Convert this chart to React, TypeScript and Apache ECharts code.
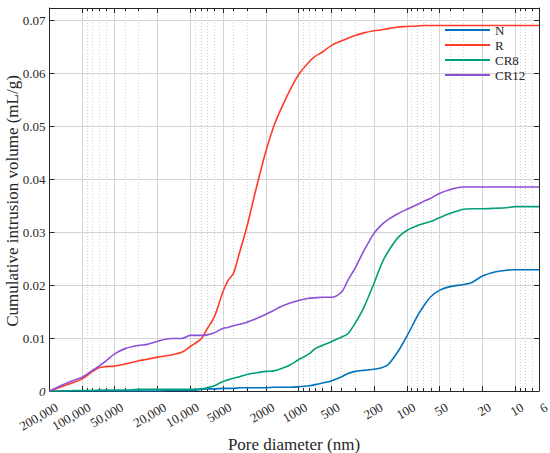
import React, { useEffect, useRef } from "react";
import * as echarts from "echarts";

const diameters = [200000, 150000, 120000, 100000, 80000, 70000, 60000, 50000, 40000, 30000, 25000, 20000, 15000, 12000, 10000, 8000, 7000, 6000, 5000, 4500, 4000, 3500, 3000, 2500, 2000, 1700, 1500, 1200, 1000, 800, 700, 600, 500, 400, 350, 300, 250, 200, 170, 150, 120, 100, 80, 70, 60, 50, 40, 30, 25, 20, 15, 12, 10, 8, 6];

const seriesN = [0, 0, 0, 0, 0, 0, 0, 0, 0, 0, 0, 0, 0.0001, 0.0001, 0.0001, 0.0003, 0.0004, 0.0004, 0.0005, 0.0005, 0.0005, 0.0006, 0.0006, 0.0006, 0.0006, 0.0007, 0.0007, 0.0007, 0.0008, 0.001, 0.0012, 0.0015, 0.0019, 0.0027, 0.0033, 0.0037, 0.0039, 0.0041, 0.0044, 0.0049, 0.0075, 0.0103, 0.0141, 0.016, 0.0178, 0.019, 0.0197, 0.0201, 0.0205, 0.0217, 0.0225, 0.0228, 0.0229, 0.0229, 0.0229];

const seriesR = [0, 0.0009, 0.0016, 0.0023, 0.0037, 0.0044, 0.0046, 0.0047, 0.0051, 0.0057, 0.006, 0.0064, 0.0068, 0.0073, 0.0084, 0.0098, 0.0117, 0.014, 0.0187, 0.0208, 0.0222, 0.0262, 0.031, 0.0377, 0.0453, 0.0499, 0.0526, 0.0568, 0.0597, 0.0621, 0.0632, 0.064, 0.0652, 0.0661, 0.0666, 0.0671, 0.0676, 0.068, 0.0682, 0.0684, 0.0687, 0.0688, 0.0689, 0.069, 0.069, 0.069, 0.069, 0.069, 0.069, 0.069, 0.069, 0.069, 0.069, 0.069, 0.069];

const seriesCR8 = [0, 0, 0.0001, 0.0001, 0.0001, 0.0002, 0.0002, 0.0002, 0.0002, 0.0003, 0.0003, 0.0003, 0.0003, 0.0003, 0.0003, 0.0004, 0.0006, 0.001, 0.0018, 0.0021, 0.0024, 0.0027, 0.0031, 0.0034, 0.0037, 0.0038, 0.0041, 0.0049, 0.0059, 0.007, 0.008, 0.0086, 0.0093, 0.0102, 0.0108, 0.0128, 0.0157, 0.0204, 0.0241, 0.0262, 0.029, 0.0303, 0.0312, 0.0316, 0.032, 0.0327, 0.0335, 0.0343, 0.0344, 0.0344, 0.0345, 0.0346, 0.0348, 0.0348, 0.0348];

const seriesCR12 = [0, 0.0012, 0.002, 0.0026, 0.0039, 0.0047, 0.0057, 0.007, 0.008, 0.0086, 0.0088, 0.0094, 0.0099, 0.0099, 0.0105, 0.0105, 0.0106, 0.011, 0.0118, 0.012, 0.0123, 0.0126, 0.013, 0.0136, 0.0145, 0.0152, 0.0158, 0.0166, 0.0171, 0.0175, 0.0176, 0.0177, 0.0177, 0.0187, 0.0209, 0.0232, 0.0264, 0.0298, 0.0314, 0.0323, 0.0335, 0.0343, 0.0352, 0.0358, 0.0364, 0.0373, 0.038, 0.0385, 0.0385, 0.0385, 0.0385, 0.0385, 0.0385, 0.0385, 0.0385];

const seriesNames = ["N", "R", "CR8", "CR12"];
const seriesColors = ["#0072BD", "#FF3B2A", "#00A07A", "#8C4FD8"];

const majorTickLabels = [200000, 100000, 50000, 20000, 10000, 5000, 2000, 1000, 500, 200, 100, 50, 20, 10, 6];
const minorTicks = [90000, 80000, 70000, 60000, 40000, 30000, 9000, 8000, 7000, 6000, 4000, 3000, 900, 800, 700, 600, 400, 300, 90, 80, 70, 60, 40, 30, 9, 8, 7];
const yTicks = [0, 0.01, 0.02, 0.03, 0.04, 0.05, 0.06, 0.07];

const xTitle = "Pore diameter (nm)";
const yTitle = "Cumulative intrusion volume (mL/g)";

const X_MIN = Math.log10(6);
const X_MAX = Math.log10(200000);
const Y_MAX = 0.0723;

const FONT = "Liberation Serif";
const AXIS_COLOR = "#262626";

export default function App() {
  const ref = useRef<HTMLDivElement>(null);

  useEffect(() => {
    if (!ref.current) return;
    const chart = echarts.init(ref.current, undefined, { renderer: "svg" });
    const majorLog = majorTickLabels.map((d) => Math.log10(d));
    const minorLog = minorTicks.map((d) => Math.log10(d));
    const allValues = [seriesN, seriesR, seriesCR8, seriesCR12];

    const baseX = {
      type: "value",
      min: X_MIN,
      max: X_MAX,
      inverse: true,
      gridIndex: 0,
    };

    const option: any = {
      animation: false,
      backgroundColor: "#ffffff",
      textStyle: { fontFamily: FONT, color: AXIS_COLOR },
      grid: [
        { left: 49.5, right: 11, top: 8, bottom: 62, outerBoundsMode: "none", containLabel: false },
        { left: 57, right: 3.5, top: 8, bottom: 62, outerBoundsMode: "none", containLabel: false },
      ],
      graphic: [
        {
          type: "text",
          x: 294,
          y: 444,
          style: {
            text: xTitle,
            fontFamily: FONT,
            fontSize: 17,
            fill: AXIS_COLOR,
            align: "center",
            verticalAlign: "middle",
          },
        },
        {
          type: "text",
          x: 12,
          y: 201,
          rotation: Math.PI / 2,
          style: {
            text: yTitle,
            fontFamily: FONT,
            fontSize: 17,
            fill: AXIS_COLOR,
            align: "center",
            verticalAlign: "middle",
          },
        },
      ],
      legend: {
        data: seriesNames,
        orient: "vertical",
        left: 445,
        top: 23,
        padding: 0,
        icon: "rect",
        itemWidth: 45,
        itemHeight: 2,
        itemGap: 1,
        textStyle: { fontFamily: FONT, fontSize: 13, color: AXIS_COLOR, lineHeight: 14 },
      },
      xAxis: [
        {
          ...baseX,
          position: "bottom",
          axisLine: { show: true, lineStyle: { color: AXIS_COLOR, width: 1 } },
          axisTick: { show: true, inside: true, length: 5, customValues: majorLog, lineStyle: { color: AXIS_COLOR } },
          axisLabel: { show: false },
          splitLine: { show: true, lineStyle: { color: "#d4d4d4", width: 1, type: "solid" } },
        },
        {
          ...baseX,
          position: "bottom",
          axisLine: { show: false },
          axisTick: { show: true, inside: true, length: 3, customValues: minorLog, lineStyle: { color: AXIS_COLOR } },
          axisLabel: { show: false },
          splitLine: { show: true, lineStyle: { color: "#cfcfcf", width: 1, type: [1, 2] } },
        },
        {
          ...baseX,
          position: "top",
          axisLine: { show: true, lineStyle: { color: AXIS_COLOR, width: 1 } },
          axisTick: { show: true, inside: true, length: 5, customValues: majorLog, lineStyle: { color: AXIS_COLOR } },
          axisLabel: { show: false },
          splitLine: { show: false },
        },
        {
          ...baseX,
          position: "top",
          axisLine: { show: false },
          axisTick: { show: true, inside: true, length: 3, customValues: minorLog, lineStyle: { color: AXIS_COLOR } },
          axisLabel: { show: false },
          splitLine: { show: false },
        },
        {
          ...baseX,
          gridIndex: 1,
          position: "bottom",
          axisLine: { show: false },
          axisTick: { show: false },
          splitLine: { show: false },
          axisLabel: {
            show: true,
            customValues: majorLog,
            rotate: 30,
            margin: 15,
            fontFamily: FONT,
            fontSize: 13,
            color: AXIS_COLOR,
            hideOverlap: false,
            formatter: (v: number) => {
              const d = Math.round(Math.pow(10, v));
              return d >= 10000 ? d.toLocaleString("en-US") : String(d);
            },
          },
        },
      ],
      yAxis: [
        {
          type: "value",
          gridIndex: 0,
          position: "left",
          min: 0,
          max: Y_MAX,
          axisLine: { show: true, lineStyle: { color: AXIS_COLOR, width: 1 } },
          axisTick: { show: true, inside: true, length: 5, customValues: yTicks, lineStyle: { color: AXIS_COLOR } },
          axisLabel: {
            show: true,
            customValues: yTicks,
            margin: 4,
            fontFamily: FONT,
            fontSize: 13,
            color: AXIS_COLOR,
            formatter: (v: number) => (v === 0 ? "{i|0}" : v.toFixed(2)),
            rich: { i: { fontFamily: FONT, fontSize: 13, fontStyle: "italic", color: AXIS_COLOR } },
          },
          splitLine: { show: true, lineStyle: { color: "#d4d4d4", width: 1 } },
        },
        {
          type: "value",
          gridIndex: 0,
          position: "right",
          min: 0,
          max: Y_MAX,
          axisLine: { show: true, lineStyle: { color: AXIS_COLOR, width: 1 } },
          axisTick: { show: true, inside: true, length: 5, customValues: yTicks, lineStyle: { color: AXIS_COLOR } },
          axisLabel: { show: false },
          splitLine: { show: false },
        },
        { type: "value", gridIndex: 1, min: 0, max: 1, show: false },
      ],
      series: seriesNames.map((name, i) => ({
        name,
        type: "line",
        xAxisIndex: 0,
        yAxisIndex: 0,
        symbol: "none",
        smooth: 0.3,
        color: seriesColors[i],
        lineStyle: { color: seriesColors[i], width: 1.6 },
        data: diameters.map((d, j) => [Math.log10(d), allValues[i][j]]),
      })),
    };

    chart.setOption(option);
    return () => chart.dispose();
  }, []);

  return (
    <div
      ref={ref}
      style={{ position: "fixed", left: 0, top: 0, width: 550, height: 453, background: "#fff" }}
    />
  );
}
